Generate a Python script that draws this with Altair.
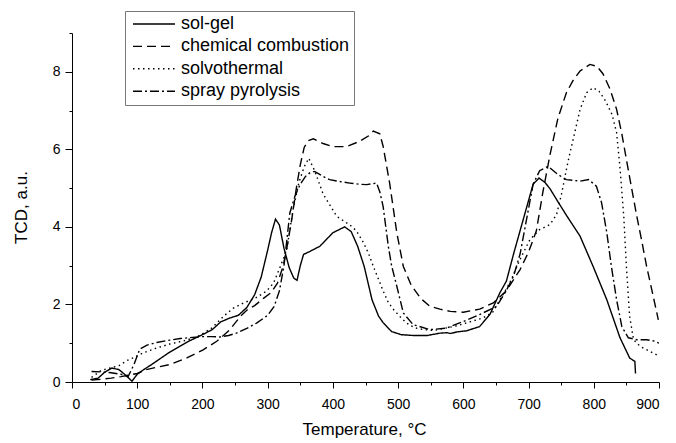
import altair as alt
import pandas as pd

SERIES = ["sol-gel", "chemical combustion", "solvothermal", "spray pyrolysis"]

sg_T = [28, 40, 50, 61, 72, 82, 92, 100, 110, 122, 135, 148, 165, 180, 200, 215, 228, 242, 255, 268, 280, 290,
        300, 306, 312, 318, 325, 333, 340, 345, 350, 355, 365, 380, 400, 418, 428, 438, 448, 460, 470, 477, 490,
        505, 523, 545, 564, 575, 580, 590, 605, 625, 641, 656, 666, 677, 687, 697, 707, 716, 725, 733, 745, 758,
        779, 799, 820, 840, 855, 863, 864]
sg_V = [0.06, 0.1, 0.25, 0.36, 0.32, 0.18, 0.02, 0.2, 0.32, 0.45, 0.6, 0.75, 0.92, 1.06, 1.22, 1.35, 1.55, 1.65,
        1.72, 1.92, 2.25, 2.7, 3.4, 3.85, 4.2, 4.05, 3.45, 2.95, 2.68, 2.62, 3.0, 3.29, 3.37, 3.5, 3.85, 4.0, 3.88,
        3.5, 2.98, 2.12, 1.7, 1.53, 1.3, 1.22, 1.2, 1.2, 1.26, 1.27, 1.25, 1.29, 1.32, 1.43, 1.75, 2.3, 2.6, 3.3,
        3.9, 4.5, 5.1, 5.26, 5.15, 4.98, 4.65, 4.3, 3.76, 2.98, 2.12, 1.15, 0.62, 0.53, 0.22]

cc_T = [30, 45, 60, 75, 88, 100, 114, 130, 150, 176, 201, 222, 242, 258, 270, 280, 293, 305, 315, 324, 331, 337,
        344, 350, 356, 362, 370, 385, 400, 421, 440, 455, 462, 472, 477, 487, 498, 508, 520, 535, 549, 564, 580,
        600, 625, 646, 666, 687, 700, 712, 722, 733, 745, 758, 769, 779, 794, 805, 814, 825, 835, 843, 850, 858,
        866, 874, 881, 890, 899]
cc_V = [0.05, 0.07, 0.1, 0.14, 0.18, 0.22, 0.32, 0.38, 0.45, 0.62, 0.83, 1.05, 1.35, 1.69, 1.88, 1.97, 2.15, 2.3,
        2.55, 3.0, 3.6, 4.2, 5.0, 5.6, 6.05, 6.22, 6.27, 6.15, 6.07, 6.07, 6.2, 6.35, 6.47, 6.4, 6.08, 5.13, 3.85,
        2.98, 2.5, 2.15, 1.95, 1.88, 1.82, 1.8, 1.88, 2.04, 2.35, 2.9, 3.35, 3.9, 4.9, 5.87, 6.8, 7.46, 7.8, 8.02,
        8.19, 8.14, 7.95, 7.55, 7.03, 6.4, 5.74, 5.0, 4.27, 3.6, 2.98, 2.3, 1.6]

sv_T = [30, 45, 60, 72, 84, 97, 109, 125, 150, 176, 196, 215, 232, 247, 263, 280, 298, 309, 320, 329, 339, 348,
        356, 363, 372, 385, 406, 426, 436, 447, 455, 462, 470, 477, 485, 493, 503, 513, 525, 539, 555, 570, 590,
        610, 630, 645, 656, 671, 687, 702, 717, 733, 743, 751, 758, 763, 769, 779, 789, 799, 808, 818, 828, 835,
        840, 846, 850, 855, 861, 871, 886, 899]
sv_V = [0.12, 0.3, 0.37, 0.42, 0.55, 0.65, 0.75, 0.85, 0.98, 1.08, 1.2, 1.4, 1.69, 1.9, 2.04, 2.15, 2.34, 2.55,
        3.0, 3.4, 4.45, 5.15, 5.55, 5.77, 5.45, 4.85, 4.27, 4.05, 3.9, 3.59, 3.3, 2.98, 2.65, 2.35, 2.05, 1.87,
        1.68, 1.52, 1.4, 1.35, 1.33, 1.38, 1.45, 1.55, 1.65, 1.8, 2.12, 2.55, 3.16, 3.67, 3.93, 4.06, 4.32, 4.88,
        5.48, 5.87, 6.3, 7.03, 7.46, 7.59, 7.5, 7.25, 6.9, 6.43, 5.56, 4.27, 2.98, 1.69, 1.09, 0.92, 0.79, 0.68]

sp_T = [30, 45, 60, 75, 86, 95, 104, 115, 130, 150, 166, 185, 200, 215, 227, 240, 252, 268, 283, 300, 310, 318,
        325, 334, 342, 350, 358, 365, 372, 385, 395, 410, 426, 440, 452, 467, 472, 477, 485, 490, 498, 508, 523,
        549, 574, 600, 625, 651, 666, 677, 687, 697, 707, 717, 730, 745, 758, 779, 792, 804, 812, 820, 827, 835,
        843, 853, 866, 881, 894, 900]
sp_V = [0.27, 0.26, 0.24, 0.2, 0.14, 0.45, 0.85, 0.95, 1.02, 1.08, 1.12, 1.15, 1.17, 1.17, 1.16, 1.2, 1.26, 1.38,
        1.52, 1.72, 1.95, 2.35, 3.0, 4.36, 4.8, 5.1, 5.3, 5.4, 5.43, 5.3, 5.22, 5.17, 5.13, 5.1, 5.09, 5.13, 4.9,
        4.53, 3.5, 3.0, 2.47, 1.78, 1.48, 1.35, 1.39, 1.56, 1.74, 1.95, 2.36, 2.73, 3.3, 4.2, 5.1, 5.45, 5.56,
        5.35, 5.22, 5.18, 5.22, 5.05, 4.62, 3.85, 2.98, 2.12, 1.43, 1.14, 1.09, 1.09, 1.05, 1.0]

X_MAJOR = list(range(0, 901, 100))
X_MINOR = list(range(50, 900, 100))
Y_MAJOR = [0, 2, 4, 6, 8]
Y_MINOR = [1, 3, 5, 7, 9]

rows = []
for name, ts, vs in zip(SERIES, [sg_T, cc_T, sv_T, sp_T], [sg_V, cc_V, sv_V, sp_V]):
    for i, (t, v) in enumerate(zip(ts, vs)):
        rows.append({"series": name, "T": t, "V": v, "i": i})
df = pd.DataFrame(rows)

FONT = "Liberation Sans"
W, H = 587, 349

xscale = alt.Scale(domain=[0, 900], nice=False, zero=False)
yscale = alt.Scale(domain=[0, 9], nice=False, zero=False)

lines = alt.Chart(df).mark_line(color="black", strokeWidth=1.4, clip=True).encode(
    x=alt.X("T:Q", scale=xscale, axis=alt.Axis(
        values=X_MAJOR, title="Temperature, °C", grid=False, tickSize=6, labelPadding=9,
        labelFontSize=14, labelFont=FONT, labelColor="black", tickColor="black", domainColor="black",
        titleFont=FONT, titleFontSize=17, titleFontWeight="normal", titleColor="black",
        titleX=292, titleY=52, titleBaseline="alphabetic", orient="bottom")),
    y=alt.Y("V:Q", scale=yscale, axis=alt.Axis(
        values=Y_MAJOR, title="TCD, a.u.", grid=False, tickSize=7, labelPadding=5,
        labelFontSize=14, labelFont=FONT, labelColor="black", tickColor="black", domainColor="black",
        titleFont=FONT, titleFontSize=17, titleFontWeight="normal", titleColor="black",
        titleX=-46, titleY=174, titleBaseline="alphabetic", orient="left")),
    strokeDash=alt.StrokeDash("series:N", scale=alt.Scale(
        domain=SERIES, range=[[1, 0], [9, 5], [1.5, 3.5], [9, 3, 2, 3]]),
        legend=alt.Legend(title=None, orient="none", legendX=53, legendY=-22,
                          symbolType="stroke", symbolSize=1764, symbolStrokeWidth=1.4,
                          symbolStrokeColor="black", symbolOffset=3, clipHeight=18,
                          labelFont=FONT, labelFontSize=18,
                          labelColor="black", labelOffset=5, labelLimit=400, rowPadding=4.4,
                          padding=4, strokeColor="#777777", fillColor="white", cornerRadius=0)),
    order=alt.Order("i:Q"),
)

minor = alt.Chart(df).mark_line(opacity=0).encode(
    x=alt.X("T:Q", scale=xscale, axis=alt.Axis(
        values=X_MINOR, labels=False, domain=False, grid=False, tickSize=3,
        tickColor="black", title=None, orient="bottom")),
    y=alt.Y("V:Q", scale=yscale, axis=alt.Axis(
        values=Y_MINOR, labels=False, domain=False, grid=False, tickSize=3,
        tickColor="black", title=None, orient="left")),
    detail="series:N",
)

chart = alt.layer(lines, minor).resolve_axis(x="independent", y="independent").properties(
    width=W, height=H,
    autosize=alt.AutoSizeParams(type="none"),
    padding={"left": 72, "top": 33, "right": 17, "bottom": 61},
    background="white",
).configure_view(stroke=None)

chart.save("out.html", embed_options={"renderer": "svg", "actions": False})
